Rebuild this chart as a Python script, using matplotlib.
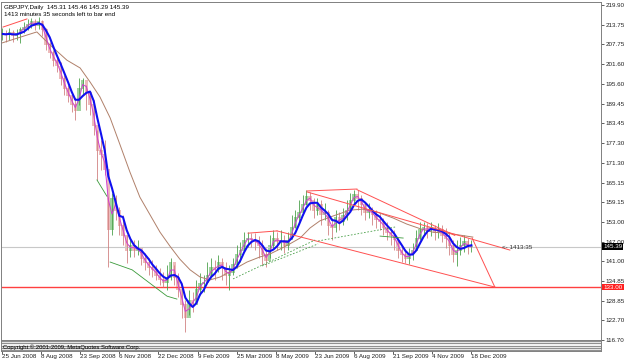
import numpy as np
import pandas as pd
import matplotlib
matplotlib.use('Agg')
import matplotlib.pyplot as plt

plt.rcParams['font.family'] = ['Liberation Sans', 'DejaVu Sans']

# GBPJPY daily, grouped in 3-bar steps
highs = [212.8, 212.2, 212.8, 212.2, 212.5, 213.1, 214.7, 215.6, 215.9, 215.6,
         216.2, 215.3, 212.8, 208.5, 206.0, 204.5, 202.3, 198.3, 195.3, 193.1,
         191.3, 197.4, 197.4, 195.3, 192.2, 190.6, 181.4, 178.3, 178.3, 160.7,
         162.0, 161.4, 157.7, 155.2, 149.0, 148.1, 147.5, 147.5, 144.4, 143.5,
         141.9, 141.3, 139.8, 138.9, 137.6, 139.8, 141.9, 139.8, 137.3, 133.0,
         129.0, 132.1, 131.5, 135.2, 137.3, 136.7, 140.7, 141.9, 141.3, 142.9,
         141.9, 140.7, 139.8, 141.9, 145.9, 146.9, 149.9, 149.9, 149.6, 149.6,
         148.7, 147.5, 145.0, 149.0, 150.6, 149.9, 150.6, 149.0, 149.9, 155.2,
         156.7, 159.8, 161.4, 162.9, 162.3, 160.4, 160.4, 159.8, 158.9, 156.7,
         154.3, 156.7, 156.1, 157.4, 159.8, 162.0, 162.9, 162.9, 161.4, 159.2,
         158.9, 157.7, 156.7, 155.8, 154.3, 153.1, 151.2, 150.6, 148.1, 145.9,
         144.4, 145.0, 146.6, 150.6, 153.1, 153.1, 152.7, 153.1, 152.1, 152.7,
         152.1, 151.2, 149.9, 147.5, 147.5, 148.4, 149.0, 148.1, 147.5]
lows = [209.1, 208.5, 209.1, 208.5, 209.1, 208.2, 211.3, 212.2, 212.8, 212.2,
        212.5, 210.4, 206.0, 203.6, 201.1, 199.3, 195.3, 192.2, 190.0, 186.9,
        184.5, 189.1, 192.2, 187.5, 186.0, 179.8, 166.0, 169.1, 167.5, 139.2,
        149.0, 153.7, 149.0, 145.9, 140.4, 142.3, 142.3, 142.9, 139.8, 138.3,
        136.7, 136.1, 135.2, 133.6, 133.0, 132.1, 135.2, 133.6, 129.9, 123.5,
        119.2, 124.4, 125.3, 129.0, 130.5, 131.5, 134.5, 135.8, 135.2, 137.6,
        135.2, 133.6, 132.1, 136.7, 138.9, 140.7, 144.4, 145.3, 145.3, 144.4,
        141.9, 139.8, 139.2, 141.9, 145.0, 144.4, 144.4, 143.5, 144.4, 148.1,
        151.2, 153.1, 155.2, 158.3, 156.7, 154.3, 155.2, 152.1, 153.7, 149.0,
        147.5, 149.9, 150.6, 152.1, 153.7, 156.7, 158.3, 156.7, 155.2, 153.7,
        154.3, 152.1, 151.2, 150.6, 149.0, 147.5, 145.9, 144.4, 141.9, 140.7,
        140.4, 140.1, 141.3, 144.4, 147.5, 149.0, 148.1, 148.7, 147.5, 148.1,
        146.9, 145.0, 142.9, 140.7, 139.5, 142.9, 143.8, 143.2, 143.8]
closes = [211.0, 210.7, 211.3, 210.4, 211.0, 212.2, 213.1, 214.0, 214.7, 213.7,
          214.7, 212.2, 207.6, 205.4, 202.9, 201.1, 197.4, 194.3, 191.9, 189.1,
          187.5, 194.3, 196.5, 193.0, 189.1, 182.9, 175.2, 173.7, 169.1, 150.6,
          160.4, 156.7, 152.1, 149.0, 144.4, 145.9, 144.4, 145.0, 141.9, 140.7,
          138.9, 138.3, 136.7, 135.2, 134.5, 135.8, 140.7, 135.8, 132.1, 127.5,
          123.5, 129.0, 127.5, 132.1, 134.2, 134.5, 136.7, 138.9, 138.3, 140.7,
          138.9, 136.7, 137.6, 139.8, 142.9, 144.4, 147.5, 148.1, 147.5, 146.9,
          145.9, 142.9, 141.3, 145.9, 148.1, 146.9, 147.5, 145.9, 147.5, 151.2,
          154.3, 156.1, 158.3, 161.0, 159.8, 156.7, 158.3, 155.2, 156.1, 152.1,
          151.2, 154.3, 153.1, 155.2, 156.7, 159.8, 161.4, 160.4, 158.3, 156.1,
          156.7, 155.2, 153.7, 153.1, 151.2, 149.9, 149.0, 147.5, 144.4, 142.9,
          141.9, 142.9, 144.4, 148.1, 150.6, 151.2, 150.6, 151.2, 149.9, 150.6,
          149.0, 148.1, 145.9, 142.9, 144.4, 145.9, 146.9, 145.3, 145.39]

# slow moving average (brown)
brown_k = [0, 9.5, 13.1, 17.7, 21.3, 24, 26.7, 29.5, 32.2, 34.9, 37.6, 40.4,
           43.1, 45.8, 48.5, 51.3, 54, 56.7, 59.5, 63, 66.8, 70.4, 73.1, 75.8,
           78.5, 81.3, 84, 86.7, 90.3, 94.9, 98.4, 102.3, 106.6, 110.4, 114,
           117.5, 121.4, 124.9, 128.4]
brown_p = [208.2, 211.6, 207.6, 202.9, 200.5, 196.2, 191.6, 185.1, 176.8, 168.4,
           160.7, 155.2, 149.9, 145.6, 141.6, 138.3, 136.1, 135.2, 136.1, 138.3,
           140.7, 142.3, 143.2, 144.7, 146.3, 148.1, 151.2, 153.4, 154.9, 156.7,
           157.0, 156.1, 154.3, 152.4, 151.0, 149.9, 149.6, 149.0, 148.4]

date_labels = ['25 Jun 2008', '8 Aug 2008', '23 Sep 2008', '6 Nov 2008',
               '22 Dec 2008', '9 Feb 2009', '25 Mar 2009', '8 May 2009',
               '23 Jun 2009', '6 Aug 2009', '21 Sep 2009', '4 Nov 2009',
               '18 Dec 2009']
price_ticks = [219.90, 213.75, 207.75, 201.60, 195.60, 189.45, 183.45, 177.30,
               171.30, 165.15, 159.15, 153.00, 147.00, 141.00, 134.85, 128.85,
               122.70, 116.70]

# hand-drawn objects: (k, price) pairs
red_lines = [[(0.27, 213.1), (6.8, 215.6)],
             [(67.1, 149.6), (75.0, 150.3)],
             [(75.0, 150.3), (134.4, 133.0)],
             [(83.2, 162.6), (96.8, 163.2)],
             [(83.2, 162.3), (138.5, 144.4)],
             [(96.8, 163.0), (123.5, 148.9)],
             [(128.2, 148.1), (134.4, 133.0)]]
green_lines = [[(25.9, 166.0), (28.6, 161.0)],
               [(29.5, 140.7), (35.5, 138.3), (45.0, 130.2), (47.7, 129.3)],
               [(103.1, 148.7), (109.4, 148.1)]]
green_dashed = [[(63.0, 135.5), (85.4, 147.5)],
                [(70.9, 139.5), (86.2, 146.3)],
                [(86.2, 147.2), (107.2, 151.5)]]

bid = 145.39
level = 133.00

closes = np.array(closes)
highs = np.array(highs)
lows = np.array(lows)
opens = np.concatenate([[closes[0]], closes[:-1]])
k = np.arange(len(closes))

blue = pd.Series(closes).rolling(4, min_periods=1).mean()
magenta = pd.Series(closes).rolling(2, min_periods=1).mean()

fig = plt.figure(figsize=(6.25, 3.62), dpi=100)
ax = fig.add_axes([1 / 625, 22 / 362, 600 / 625, 338 / 362])
ax2 = fig.add_axes([1 / 625, 11 / 362, 600 / 625, 11 / 362], sharex=ax)

up = closes >= opens
body_up = '#8fcc8f'
body_dn = '#eab0b0'
ax.vlines(k[up], lows[up], highs[up], color='#4aa04a', lw=0.7, alpha=0.85)
ax.vlines(k[~up], lows[~up], highs[~up], color='#d08080', lw=0.7, alpha=0.85)
ax.bar(k, np.abs(closes - opens) + 0.3, bottom=np.minimum(opens, closes) - 0.15,
       width=0.85, color=np.where(up, body_up, body_dn), alpha=0.85, lw=0)

ax.axhline(bid, color='#c8c8c8', lw=0.8, zorder=1)
ax.axhline(level, color='#ff4040', lw=1.0, zorder=1)

ax.plot(brown_k, brown_p, color='#b0806a', lw=0.7)
ax.plot(k, magenta, color='#d040d0', lw=0.7)
ax.plot(k, blue, color='#1010f0', lw=1.5)

for ln in red_lines:
    xs, ys = zip(*ln)
    ax.plot(xs, ys, color='#ff5050', lw=0.7)
for ln in green_lines:
    xs, ys = zip(*ln)
    ax.plot(xs, ys, color='#3a9a3a', lw=0.6)
for ln in green_dashed:
    xs, ys = zip(*ln)
    ax.plot(xs, ys, color='#4aa04a', lw=0.6, ls=(0, (2, 2)))

ax.text(136.4, 145.1, '<- 1413:35', fontsize=4.5, color='#303030', va='center')

ax.set_xlim(-0.27, 163.35)
ax.set_ylim(116.69, 220.82)
ax.yaxis.tick_right()
ax.set_yticks(price_ticks)
ax.set_yticklabels([f'{v:.2f}' for v in price_ticks])
ax.tick_params(axis='y', length=2, width=0.5, pad=1.5, labelsize=4.5,
               colors='#202020')
ax.tick_params(axis='x', bottom=False, labelbottom=False)
for s in ax.spines.values():
    s.set_color('#808080')
    s.set_linewidth(0.7)

# price labels on the right scale
ax.text(1.004, bid, f'{bid:.2f}', transform=ax.get_yaxis_transform(),
        fontsize=4.5, color='white', va='center', ha='left',
        bbox=dict(boxstyle='square,pad=0.15', fc='black', ec='none'))
ax.text(1.004, level, f'{level:.2f}', transform=ax.get_yaxis_transform(),
        fontsize=4.5, color='white', va='center', ha='left',
        bbox=dict(boxstyle='square,pad=0.15', fc='#ff2020', ec='none'))

# collapsed indicator window
for yy in [0.1, 0.3, 0.5, 0.7, 0.9]:
    ax2.axhline(yy, color='#909090', lw=0.9)
ax2.set_ylim(0, 1)
ax2.set_yticks([])
ax2.text(0.003, 0.35, 'Copyright \u00a9 2001-2009, MetaQuotes Software Corp.',
         transform=ax2.transAxes, fontsize=4.2, color='black', va='center')
ax2.set_xticks([j * 32 / 3 for j in range(len(date_labels))])
ax2.set_xticklabels(date_labels, ha='left')
ax2.tick_params(axis='x', length=2, width=0.5, pad=0.5, labelsize=4.5,
                colors='#202020')
for s in ax2.spines.values():
    s.set_color('#808080')
    s.set_linewidth(0.7)

fig.text(4 / 625, 1 - 7 / 362, 'GBPJPY,Daily  145.31 145.46 145.29 145.39',
         fontsize=4.5, va='center')
fig.text(4 / 625, 1 - 14 / 362, '1413 minutes 35 seconds left to bar end',
         fontsize=4.5, va='center')

fig.savefig('out.png', dpi=100)
